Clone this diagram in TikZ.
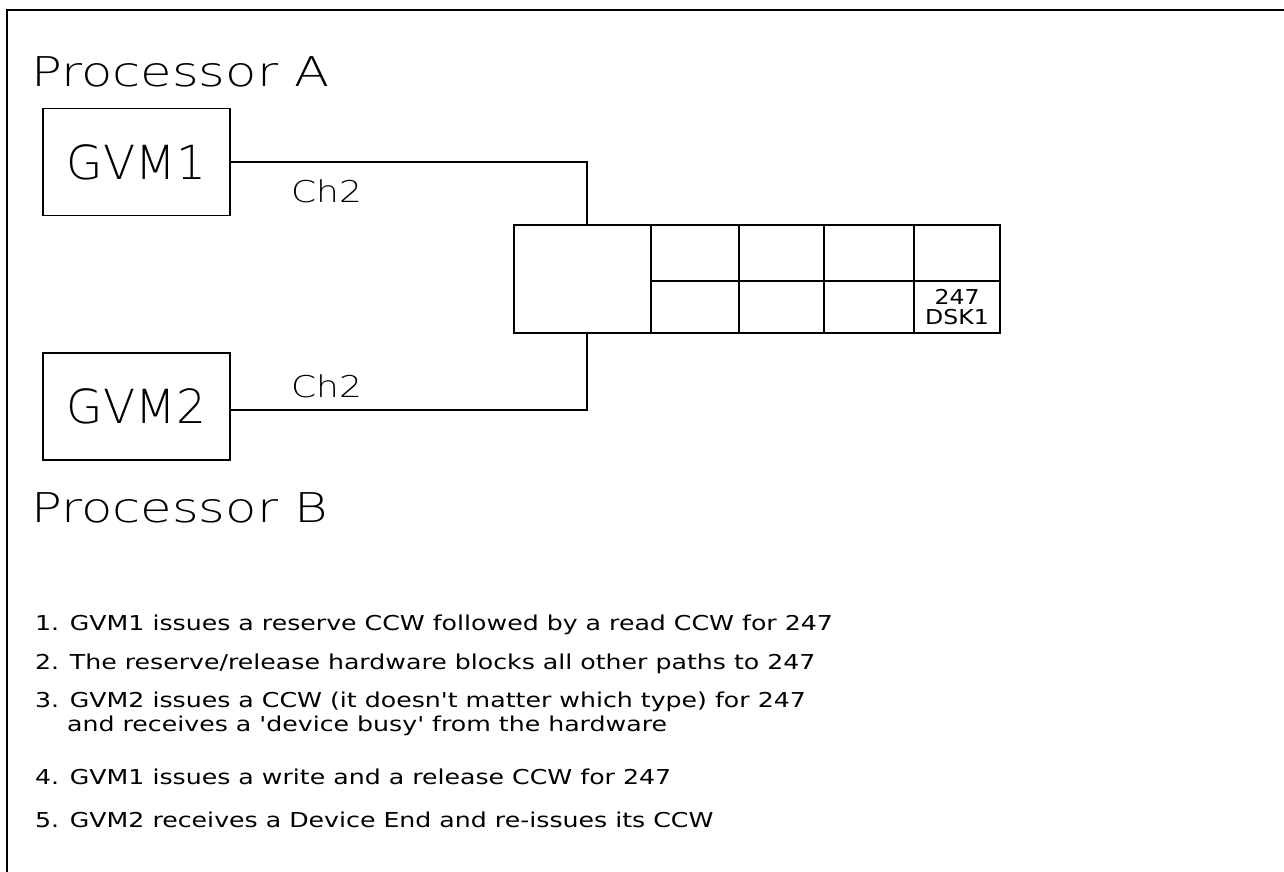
\documentclass[tikz,border=0pt]{standalone}
\usepackage{fontspec}
\newfontfamily\procfont{DejaVuSans-ExtraLight.ttf}[FakeStretch=1.25]
\newfontfamily\gvmfont{DejaVuSans-ExtraLight.ttf}
\newfontfamily\chfont{DejaVuSans-ExtraLight.ttf}[FakeStretch=1.2]
\newfontfamily\listfont{DejaVu Sans}[FakeStretch=1.23,Ligatures=TeXOff]
\newfontfamily\dskfont{DejaVu Sans}[FakeStretch=1.15]
\begin{document}
\begin{tikzpicture}[x=1pt,y=-1pt]
\tikzset{
  frameline/.style={line width=2.2pt},
  vmbox/.style={draw, line width=1.3pt, minimum width=187pt, minimum height=107pt, inner sep=0pt,
    font=\gvmfont\fontsize{47}{47}\selectfont},
  cell/.style={draw, line width=1.3pt, inner sep=0pt},
  wire/.style={line width=1.3pt},
  proc/.style={anchor=base west, inner sep=0pt, font=\procfont\fontsize{41}{41}\selectfont},
  chlbl/.style={inner sep=0pt, font=\chfont\fontsize{30}{30}\selectfont},
  item/.style={anchor=base west, inner sep=0pt, font=\listfont\fontsize{20.5}{20.5}\selectfont},
  dsk/.style={align=center, font=\dskfont\fontsize{20.5}{20}\selectfont}
}
\useasboundingbox (0,0) rectangle (1284,872);
\fill[white] (0,0) rectangle (1284,872);

% frame (top and left edges)
\coordinate (fbl) at (7,872);
\coordinate (ftl) at (7,10);
\coordinate (ftr) at (1284,10);
\draw[frameline] (fbl) -- (ftl) -- (ftr);

% processor labels
\node[proc] (pa) at (31,87) {Processor A};
\node[proc] (pb) at (31,522) {Processor B};

% virtual machines
\node[vmbox] (gvm1) at (136.5,162) {GVM1};
\node[vmbox] (gvm2) at (136.5,406.5) {GVM2};

% control unit and devices
\node[cell, minimum width=137pt, minimum height=108pt] (ctl) at (582.5,279) {};
\node[cell, minimum width=88pt, minimum height=56pt] (d1) at (695,253) {};
\node[cell, minimum width=85pt, minimum height=56pt] (d2) at (781.5,253) {};
\node[cell, minimum width=90pt, minimum height=56pt] (d3) at (869,253) {};
\node[cell, minimum width=86pt, minimum height=56pt] (d4) at (957,253) {};
\node[cell, minimum width=88pt, minimum height=52pt] (d5) at (695,307) {};
\node[cell, minimum width=85pt, minimum height=52pt] (d6) at (781.5,307) {};
\node[cell, minimum width=90pt, minimum height=52pt] (d7) at (869,307) {};
\node[cell, minimum width=86pt, minimum height=52pt, dsk] (d8) at (957,307) {247\\DSK1};

% channel connectors
\coordinate (ctltop) at (587,225);
\coordinate (ctlbot) at (587,333);
\draw[wire] (gvm1.east) -| (ctltop);
\draw[wire] (gvm2.east |- 0,410) -| (ctlbot);
\node[chlbl] (ch1) at (326.5,191) {Ch2};
\node[chlbl] (ch2) at (326.5,386) {Ch2};

% list
\node[item] (it1) at (35,630) {1. GVM1 issues a reserve CCW followed by a read CCW for 247};
\node[item] (it2) at (35,669) {2. The reserve/release hardware blocks all other paths to 247};
\node[item] (it3) at (35,707) {3. GVM2 issues a CCW (it doesn't matter which type) for 247};
\node[item] (it3b) at (67,731) {and receives a 'device busy' from the hardware};
\node[item] (it4) at (35,784) {4. GVM1 issues a write and a release CCW for 247};
\node[item] (it5) at (35,827) {5. GVM2 receives a Device End and re-issues its CCW};
\end{tikzpicture}
\end{document}
